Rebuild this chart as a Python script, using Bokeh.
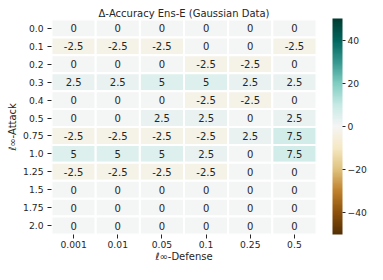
import numpy as np
from bokeh.plotting import figure
from bokeh.models import (ColumnDataSource, LinearColorMapper, ColorBar,
                          FixedTicker, CustomJSTickFormatter)
from bokeh.core.properties import value
from bokeh.embed import file_html
from bokeh.resources import INLINE

# ---------------- data ----------------
defense = ["0.001", "0.01", "0.05", "0.1", "0.25", "0.5"]
attack = ["0.0", "0.1", "0.2", "0.3", "0.4", "0.5",
          "0.75", "1.0", "1.25", "1.5", "1.75", "2.0"]
delta_acc = [
    [0, 0, 0, 0, 0, 0],
    [-2.5, -2.5, -2.5, 0, 0, -2.5],
    [0, 0, 0, -2.5, -2.5, 0],
    [2.5, 2.5, 5, 5, 2.5, 2.5],
    [0, 0, 0, -2.5, -2.5, 0],
    [0, 0, 2.5, 2.5, 0, 2.5],
    [-2.5, -2.5, -2.5, -2.5, 2.5, 7.5],
    [5, 5, 5, 2.5, 0, 7.5],
    [-2.5, -2.5, -2.5, -2.5, 0, 0],
    [0, 0, 0, 0, 0, 0],
    [0, 0, 0, 0, 0, 0],
    [0, 0, 0, 0, 0, 0],
]
value_low, value_high = -50, 50
colorbar_ticks = [-40, -20, 0, 20, 40]
title_text = "Δ-Accuracy Ens-E (Gaussian Data)"
x_label = "ℓ∞-Defense"
y_label = "ℓ∞-Attack"

# ---------------- palette (BrBG, 256 steps) ----------------
anchors = ["#543005", "#8c510a", "#bf812d", "#dfc27d", "#f6e8c3", "#f5f5f5",
           "#c7eae5", "#80cdc1", "#35978f", "#01665e", "#003c30"]
rgb = np.array([[int(c[i:i + 2], 16) for i in (1, 3, 5)] for c in anchors], float)
pos = np.linspace(0, 1, len(anchors))
t = np.linspace(0, 1, 256)
lut = np.stack([np.interp(t, pos, rgb[:, k]) for k in range(3)], axis=1)
palette = ["#%02x%02x%02x" % tuple(int(round(v)) for v in row) for row in lut]

mapper = LinearColorMapper(palette=palette, low=value_low, high=value_high)

xs, ys, vals, labels = [], [], [], []
for i, a in enumerate(attack):
    for j, d in enumerate(defense):
        v = delta_acc[i][j]
        xs.append(d)
        ys.append(a)
        vals.append(v)
        labels.append(format(v, "g"))
src = ColumnDataSource(dict(x=xs, y=ys, v=vals, label=labels))

FONT = "DejaVu Sans"
TXT = "#262626"

W, H = 367, 264
BL, BR, BT, BB = 51, 51, 19, 29
FW, FH = W - BL - BR, H - BT - BB

p = figure(width=W, height=H, x_range=defense, y_range=list(reversed(attack)),
           output_backend="svg", toolbar_location=None,
           min_border_left=BL, min_border_right=BR, min_border_top=BT,
           min_border_bottom=BB)
p.outline_line_color = None
p.grid.grid_line_color = None

p.rect(x="x", y="y", width=1, height=1, source=src,
       fill_color={"field": "v", "transform": mapper},
       line_color="white", line_width=2)
p.text(x="x", y="y", text="label", source=src, text_align="center",
       text_baseline="middle", text_font=value(FONT), text_font_size="10px",
       text_color=TXT)

p.title.text = title_text
p.title.align = "center"
p.title.text_font = FONT
p.title.text_font_size = "10px"
p.title.text_font_style = "normal"
p.title.text_color = TXT
p.title.standoff = 2

for ax in (p.xaxis[0], p.yaxis[0]):
    ax.axis_line_color = None
    ax.major_tick_line_color = TXT
    ax.major_tick_out = 4
    ax.major_tick_in = 0
    ax.minor_tick_line_color = None
    ax.major_label_text_font = FONT
    ax.major_label_text_font_size = "9.2px"
    ax.major_label_text_color = TXT
    ax.axis_label_text_font = FONT
    ax.axis_label_text_font_size = "10px"
    ax.axis_label_text_font_style = "normal"
    ax.axis_label_text_color = TXT

p.xaxis.major_label_standoff = 2
p.xaxis.axis_label_standoff = 0
p.yaxis.major_label_standoff = 4
p.yaxis.axis_label_standoff = 2

p.xaxis.axis_label = x_label
p.yaxis.axis_label = y_label

cb = ColorBar(color_mapper=mapper, width=10, height=FH, padding=0, margin=0,
              location=(FW + 16, 0),
              ticker=FixedTicker(ticks=colorbar_ticks),
              formatter=CustomJSTickFormatter(
                  code="return tick < 0 ? '\\u2212' + Math.abs(tick) : '' + tick;"),
              major_tick_out=3, major_tick_in=0, major_tick_line_color=TXT,
              minor_tick_line_color=None, bar_line_color=None,
              major_label_text_font=FONT, major_label_text_font_size="9.2px",
              major_label_text_color=TXT, label_standoff=2,
              background_fill_color=None, border_line_color=None)
p.add_layout(cb)

open("out.html", "w").write(file_html(p, INLINE))
